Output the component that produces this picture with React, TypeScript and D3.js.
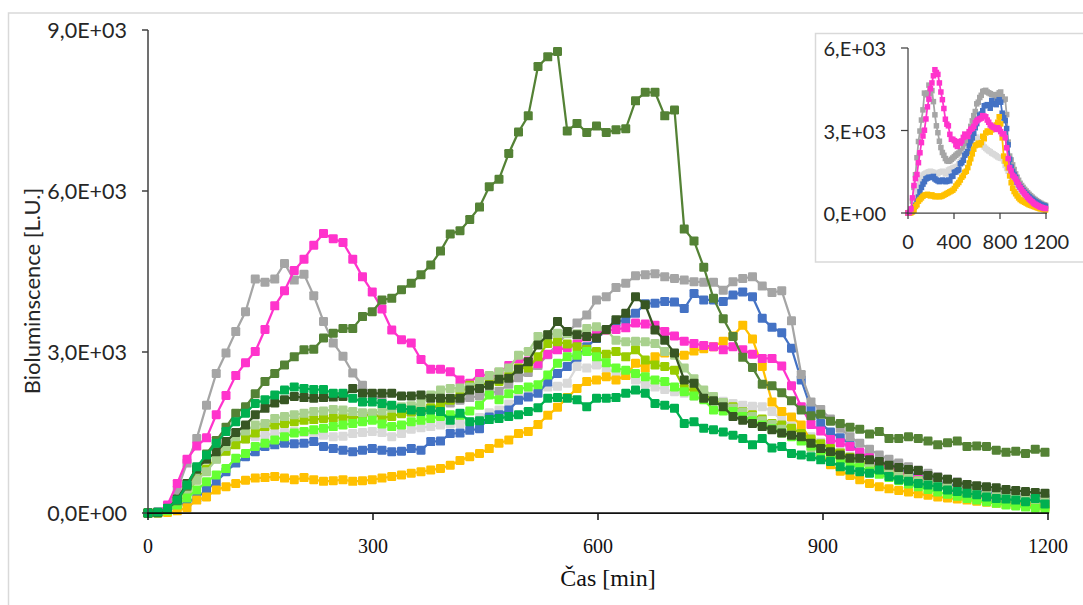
import React from 'react';
import * as d3 from 'd3';

const TIME = [0,13,26,39,52,65,78,91,104,117,130,143,156,169,182,195,208,221,234,247,260,273,286,299,312,325,338,351,364,377,390,403,416,429,442,455,468,481,494,507,520,533,546,559,572,585,598,611,624,637,650,663,676,689,702,715,728,741,754,767,780,793,806,819,832,845,858,871,884,897,910,923,936,949,962,975,988,1001,1014,1027,1040,1053,1066,1079,1092,1105,1118,1131,1144,1157,1170,1183,1196];

const OLIVE = [0,10,70,230,500,800,1100,1350,1600,1860,
1980,2220,2450,2600,2760,2910,3040,3050,3260,3350,
3440,3440,3660,3750,3970,4000,4160,4280,4440,4620,
4880,5200,5260,5470,5700,6080,6220,6700,7100,7400,
8320,8500,8600,7120,7260,7090,7210,7090,7140,7160,
7680,7840,7840,7400,7510,5290,5070,4580,4000,3620,
3290,2900,2710,2400,2370,2240,2090,1920,1810,1840,
1710,1670,1600,1560,1470,1520,1390,1390,1420,1390,
1340,1270,1310,1340,1240,1250,1240,1170,1130,1150,
1110,1190,1130];

const PINK = [0,20,150,550,1000,1250,1400,1830,2190,2560,
2800,3010,3420,3860,4140,4520,4730,4990,5210,5110,
5040,4730,4400,4120,3800,3410,3230,3170,2860,2680,
2680,2630,2480,2420,2600,2540,2620,2750,2870,2830,
2780,2960,3040,3080,3150,3280,3350,3400,3420,3450,
3540,3520,3500,3380,3300,3200,3160,3120,3100,3040,
3100,3040,2960,2880,2880,2740,2370,1980,1650,1530,
1370,1310,1240,1130,1030,930,850,770,700,630,
570,510,460,410,360,320,290,260,230,210,
190,170,160];

const GRAY = [0,10,100,430,930,1390,2010,2600,2980,3380,
3750,4360,4300,4360,4650,4340,4450,4050,3570,3170,
2920,2610,2380,2200,2100,1980,1900,1880,1900,1950,
2000,2050,2100,2150,2180,2230,2270,2400,2520,2620,
2750,2950,3150,3350,3540,3690,3970,4030,4200,4280,
4420,4440,4460,4400,4370,4340,4310,4300,4300,4150,
4310,4370,4400,4230,4110,4140,3580,2580,2070,1930,
1750,1580,1420,1300,1190,1080,1000,930,860,800,
740,680,630,580,530,490,450,410,380,350,
320,300,280];

const BLUE = [0,5,40,130,200,280,430,580,770,930,
1050,1140,1240,1270,1300,1290,1300,1330,1240,1200,
1170,1140,1170,1200,1170,1140,1150,1200,1170,1330,
1340,1480,1490,1540,1570,1790,1830,1920,2100,2160,
2230,2440,2600,2730,2900,3100,3250,3400,3560,3600,
3720,3900,3910,3940,3930,3810,4090,3970,3970,3940,
4060,4120,4030,3630,3460,3360,3070,2480,1950,1670,
1510,1400,1300,1120,1030,950,880,810,750,690,
640,590,540,500,460,420,390,360,330,300,
280,260,240];

const YELLOW = [0,0,10,40,100,240,300,430,490,550,
610,650,660,680,650,620,660,620,590,600,
620,590,600,620,650,680,710,740,770,800,
830,890,980,1050,1110,1200,1300,1360,1480,1520,
1650,1820,1970,2150,2320,2450,2480,2540,2480,2560,
2790,2700,2910,2980,2970,2940,3020,3060,3100,3200,
3300,3500,3240,2730,2070,1890,1790,1640,1350,1100,
900,780,700,620,550,490,450,420,390,360,
330,300,280,260,240,220,200,180,160,150,
140,120,110];

const LIGHT_GRAY = [0,5,50,180,380,600,800,1000,1150,1280,
1380,1420,1450,1480,1500,1520,1500,1480,1450,1420,
1430,1480,1500,1520,1500,1420,1480,1560,1590,1610,
1640,1660,1670,1700,1780,1870,1920,2030,2140,2200,
2320,2350,2360,2420,2730,2700,2760,2700,2600,2560,
2480,2400,2350,2300,2260,2230,2180,2150,2120,2080,
2040,2010,1990,1980,1890,1730,1620,1520,1420,1320,
1230,1140,1060,980,910,840,780,720,660,610,
560,510,470,430,390,350,320,290,260,230,
210,190,170];

const DARK_GREEN = [0,5,80,260,550,830,1000,1140,1330,1500,
1640,1830,1950,2050,2110,2170,2150,2140,2150,2160,
2170,2320,2230,2230,2230,2230,2180,2180,2200,2140,
2140,2140,2140,2290,2320,2380,2490,2510,2680,2820,
3130,3320,3570,3380,3320,3290,3260,3420,3600,3720,
4030,3880,3410,3220,2980,2480,2420,2140,2090,1980,
1800,1730,1670,1610,1550,1490,1450,1420,1300,1200,
1140,1080,1020,1020,990,960,890,850,810,790,
700,660,630,570,530,510,490,470,440,420,
400,380,370];

const GREEN = [0,20,90,240,520,860,1080,1300,1520,1700,
1860,2040,2110,2200,2290,2350,2320,2300,2300,2230,
2230,2140,2070,2070,2040,2010,1950,1920,1890,1920,
1890,1730,1860,1700,1720,1740,1760,1800,1830,1890,
1960,2140,2150,2140,2110,1980,2140,2140,2150,2230,
2290,2230,2040,2010,1950,1670,1700,1580,1550,1510,
1450,1390,1270,1390,1210,1240,1110,1080,1050,990,
960,860,800,770,740,800,680,620,590,550,
520,490,430,400,370,340,300,270,260,240,
210,270,170];

const PALE_GREEN = [0,5,60,200,420,620,770,1000,1240,1420,
1530,1640,1670,1760,1800,1830,1860,1890,1900,1930,
1920,1890,1870,1860,1900,1950,1980,2000,2040,2200,
2290,2320,2330,2350,2450,2560,2630,2700,2940,3010,
3290,3320,3350,3340,3340,3440,3470,3410,3220,3190,
3200,3190,3160,3010,2940,2700,2500,2290,2170,2060,
1950,1880,1800,1720,1650,1560,1450,1350,1220,1150,
1090,1030,980,920,860,800,750,700,650,600,
560,520,480,440,410,380,350,320,300,280,
260,240,220];

const YELLOW_GREEN = [0,5,50,180,400,620,820,1020,1150,1270,
1380,1490,1610,1640,1670,1700,1730,1740,1760,1770,
1790,1780,1790,1860,1770,1800,1850,1880,1920,1960,
2010,2100,2250,2380,2390,2420,2450,2550,2700,2700,
2910,3160,3190,3150,3100,3050,3010,2960,3010,2910,
3040,2850,2760,2730,2660,2320,2280,2200,2120,2050,
1980,1890,1830,1750,1670,1640,1580,1480,1380,1290,
1200,1120,1040,970,900,830,770,710,650,600,
550,500,460,420,380,340,310,280,250,220,
200,170,150];

const BRIGHT_GREEN = [0,5,40,150,280,430,580,710,830,1020,
1110,1240,1300,1360,1420,1490,1520,1550,1580,1610,
1640,1670,1700,1730,1660,1610,1640,1700,1730,1760,
1800,1830,1820,1900,2010,2200,2110,2220,2300,2350,
2390,2570,2790,2910,2940,3010,2910,2800,2700,2660,
2600,2540,2480,2450,2350,2260,2180,2110,1920,1900,
1890,1800,1720,1640,1570,1490,1420,1340,1250,1160,
1080,1000,920,850,780,720,660,600,540,490,
440,390,350,310,270,240,210,180,150,130,
110,90,70];

const MAIN_SERIES = [
  { values: LIGHT_GRAY, color: '#D9D9D9' },
  { values: BLUE, color: '#4472C4' },
  { values: YELLOW, color: '#FFC000' },
  { values: GRAY, color: '#A5A5A5' },
  { values: PINK, color: '#FF33CC' },
  { values: YELLOW_GREEN, color: '#99CC00' },
  { values: PALE_GREEN, color: '#A9D18E' },
  { values: BRIGHT_GREEN, color: '#66FF33' },
  { values: OLIVE, color: '#548235' },
  { values: DARK_GREEN, color: '#375623' },
  { values: GREEN, color: '#00B050' },
];

const INSET_SERIES = [
  { values: GRAY, color: '#A5A5A5' },
  { values: LIGHT_GRAY, color: '#D9D9D9' },
  { values: BLUE, color: '#4472C4' },
  { values: YELLOW, color: '#FFC000' },
  { values: PINK, color: '#FF33CC' },
];

const Y_TICKS = [0, 3000, 6000, 9000];
const Y_TICK_LABELS = ['0,0E+00', '3,0E+03', '6,0E+03', '9,0E+03'];
const X_TICKS = [0, 300, 600, 900, 1200];
const INSET_Y_TICKS = [0, 3000, 6000];
const INSET_Y_LABELS = ['0,E+00', '3,E+03', '6,E+03'];
const INSET_X_TICKS = [0, 400, 800, 1200];

const SANS = 'Lato, "Open Sans", sans-serif';
const SERIF = '"Liberation Serif", "DejaVu Serif", serif';

export default function App() {
  const x = d3.scaleLinear().domain([0, 1200]).range([148, 1048]);
  const y = d3.scaleLinear().domain([0, 9000]).range([513, 30]);
  const xi = d3.scaleLinear().domain([0, 1200]).range([908, 1046]);
  const yi = d3.scaleLinear().domain([0, 6000]).range([213, 48]);

  const mainLine = d3.line<number>().x((_, i) => x(TIME[i])).y((d) => y(d));
  const insetLine = d3.line<number>().x((_, i) => xi(TIME[i])).y((d) => yi(d));

  const M = 9;
  const m = 5.5;

  return (
    <svg width={1083} height={605} style={{ position: 'absolute', left: 0, top: 0, background: '#fff' }}>
      <rect x={8.5} y={13} width={1100} height={700} fill="#fff" stroke="#d9d9d9" strokeWidth={1.5} />

      {MAIN_SERIES.map((s, si) => (
        <g key={si}>
          <path d={mainLine(s.values) || ''} fill="none" stroke={s.color} strokeWidth={2.25} strokeLinejoin="round" />
          {s.values.map((v, i) => (
            <rect key={i} x={x(TIME[i]) - M / 2} y={y(v) - M / 2} width={M} height={M} rx={1.2} fill={s.color} />
          ))}
        </g>
      ))}

      <line x1={148} x2={148} y1={y(9000)} y2={y(0)} stroke="#404040" strokeWidth={1.5} />
      {Y_TICKS.map((t) => (
        <line key={t} x1={142} x2={148} y1={y(t)} y2={y(t)} stroke="#404040" strokeWidth={1.5} />
      ))}
      {Y_TICKS.map((t, i) => (
        <text key={t} x={127} y={y(t)} textAnchor="end" dominantBaseline="central" fontFamily={SANS} fontSize={21.5} fill="#262626">
          {Y_TICK_LABELS[i]}
        </text>
      ))}
      <line x1={147} x2={1049} y1={513} y2={513} stroke="#111" strokeWidth={1.75} />
      {X_TICKS.map((t) => (
        <line key={t} x1={x(t)} x2={x(t)} y1={513} y2={520} stroke="#111" strokeWidth={1.5} />
      ))}
      {X_TICKS.map((t) => (
        <text key={t} x={x(t)} y={553} textAnchor="middle" fontFamily={SERIF} fontSize={20} fill="#111">
          {t}
        </text>
      ))}
      <text x={608} y={586} textAnchor="middle" fontFamily={SERIF} fontSize={24} fill="#111">Čas [min]</text>
      <text transform="translate(31,291) rotate(-90)" textAnchor="middle" dominantBaseline="central" fontFamily={SANS} fontSize={22} fill="#262626">
        Bioluminscence [L.U.]
      </text>

      <rect x={815.5} y={33.5} width={300} height={228.5} fill="#fff" stroke="#d9d9d9" strokeWidth={1.5} />
      {INSET_SERIES.map((s, si) => (
        <g key={si}>
          <path d={insetLine(s.values) || ''} fill="none" stroke={s.color} strokeWidth={1.75} />
          {s.values.map((v, i) => (
            <rect key={i} x={xi(TIME[i]) - m / 2} y={yi(v) - m / 2} width={m} height={m} fill={s.color} />
          ))}
        </g>
      ))}
      <line x1={908} x2={908} y1={yi(6000)} y2={yi(0)} stroke="#404040" strokeWidth={1.25} />
      {INSET_Y_TICKS.map((t) => (
        <line key={t} x1={901} x2={908} y1={yi(t)} y2={yi(t)} stroke="#404040" strokeWidth={1.25} />
      ))}
      {INSET_Y_TICKS.map((t, i) => (
        <text key={t} x={886} y={yi(t)} textAnchor="end" dominantBaseline="central" fontFamily={SANS} fontSize={20} fill="#262626">
          {INSET_Y_LABELS[i]}
        </text>
      ))}
      <line x1={907} x2={1047} y1={213} y2={213} stroke="#404040" strokeWidth={1.25} />
      {INSET_X_TICKS.map((t) => (
        <line key={t} x1={xi(t)} x2={xi(t)} y1={213} y2={219} stroke="#404040" strokeWidth={1.25} />
      ))}
      {INSET_X_TICKS.map((t) => (
        <text key={t} x={xi(t)} y={249} textAnchor="middle" fontFamily={SANS} fontSize={20} fill="#262626">
          {t}
        </text>
      ))}
    </svg>
  );
}
